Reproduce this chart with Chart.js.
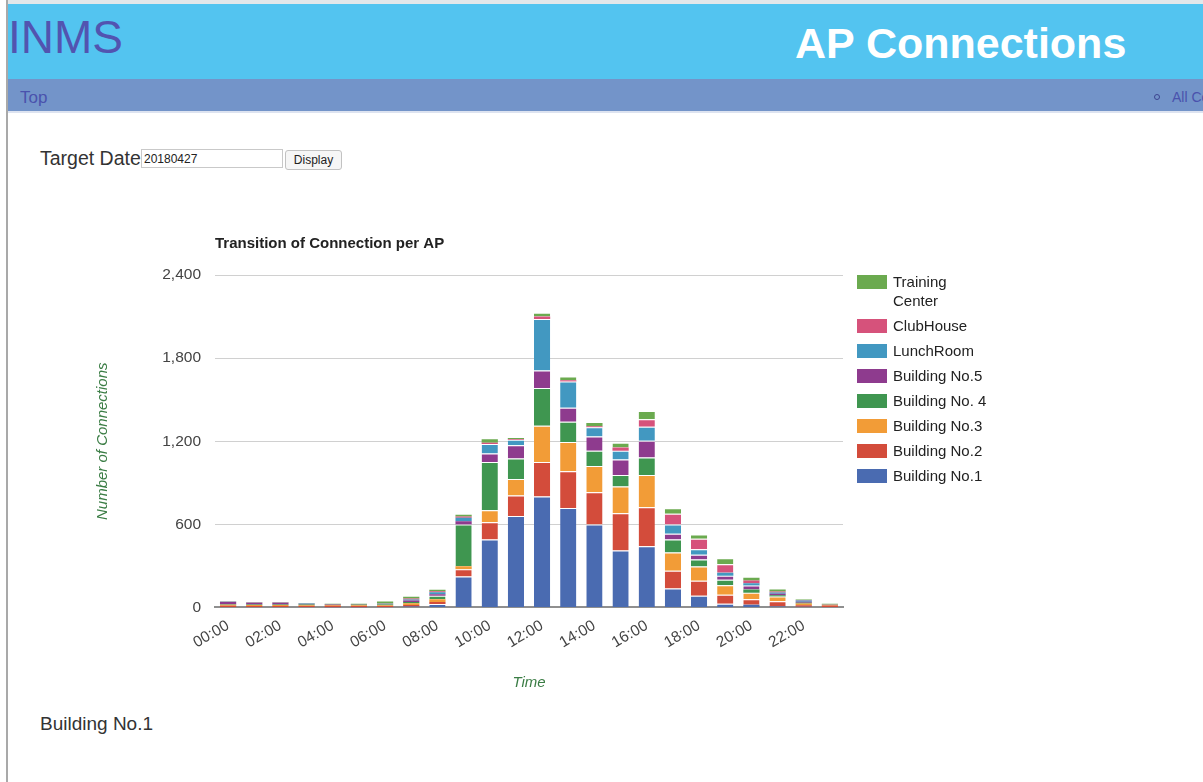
<!DOCTYPE html>
<html>
<head>
<meta charset="utf-8">
<title>AP Connections</title>
<script src="https://cdn.jsdelivr.net/npm/chart.js@4.4.1/dist/chart.umd.min.js"></script>
<style>
  html, body { margin: 0; padding: 0; background: #fff; }
  body { width: 1203px; height: 782px; position: relative; overflow: hidden;
         font-family: "Liberation Sans", Arial, Helvetica, sans-serif; }
  .edge { position: absolute; left: 0; top: 0; width: 6px; height: 782px; background: #fff; border-right: 2px solid #a9a9a9; }
  .topstrip { position: absolute; left: 8px; top: 0; width: 1195px; height: 4px; background: #e3e7ea; }
  .header { position: absolute; left: 8px; top: 4px; width: 1195px; height: 75px; background: #53c4f0; overflow: hidden; }
  .brand { position: absolute; left: 0px; top: 10px; font-size: 46px; color: #5254b0; line-height: 1; }
  .pagetitle { position: absolute; left: 787px; top: 18px; font-size: 43px; font-weight: bold; color: #fff; line-height: 1; }
  .nav { position: absolute; left: 8px; top: 79px; width: 1195px; height: 32px; background: #7394c9; border-bottom: 2px solid #dde3f0; }
  .nav .top { position: absolute; left: 12px; top: 9px; font-size: 17px; color: #4a52ad; }
  .nav .bullet { position: absolute; left: 1146px; top: 15px; width: 4px; height: 4px; border: 1.5px solid #3d4590; border-radius: 50%; }
  .nav .all { position: absolute; left: 1164px; top: 10px; font-size: 14px; color: #4a52ad; white-space: nowrap; }
  .form { position: absolute; left: 40px; top: 147px; font-size: 19.5px; color: #333; }
  .form input { position: absolute; left: 101px; top: 2px; width: 136px; height: 15px; padding: 1px 2px;
                font-size: 12px; border: 1px solid #c9c9c9; font-family: inherit; color: #222; }
  .form button { position: absolute; left: 245px; top: 3px; width: 57px; height: 20px; font-size: 12px;
                 background: #f6f6f6; border: 1px solid #c2c2c2; border-radius: 3px; padding: 0; font-family: inherit; color: #222; }
  .section { position: absolute; left: 40px; top: 713px; font-size: 19px; color: #333; }
  #chartWrap { position: absolute; left: 60px; top: 225px; width: 1040px; height: 480px; }
  #legend { position: absolute; left: 857px; top: 272px; width: 220px; font-size: 15px; color: #222; }
  .li { position: relative; height: 25px; }
  .li .box { position: absolute; left: 0; top: 3px; width: 30px; height: 14px; }
  .li .txt { position: absolute; left: 36px; top: 0px; line-height: 19px; white-space: nowrap; }
  .li.two { height: 44px; }
</style>
</head>
<body>
<div class="edge"></div>
<div class="topstrip"></div>
<div class="header">
  <div class="brand">INMS</div>
  <div class="pagetitle">AP Connections</div>
</div>
<div class="nav">
  <div class="top">Top</div>
  <div class="bullet"></div>
  <div class="all">All Connections</div>
</div>
<div class="form">Target Date<input type="text" value="20180427"><button>Display</button></div>
<div id="chartWrap"><canvas id="apChart" width="1040" height="480"></canvas></div>
<div id="legend"></div>
<div class="section">Building No.1</div>

<script>
// Hourly slots of the selected day
const hours = ["00:00","01:00","02:00","03:00","04:00","05:00","06:00","07:00","08:00","09:00","10:00","11:00",
               "12:00","13:00","14:00","15:00","16:00","17:00","18:00","19:00","20:00","21:00","22:00","23:00"];

// Connections per access point group, one value per hour
const building1   = [4,3,3,3,2,2,3,8,25,224,491,661,801,719,599,411,442,137,84,27,19,7,5,3];
const building2   = [8,8,8,8,10,8,8,10,15,52,125,147,250,264,233,269,282,128,109,65,41,38,12,12];
const building3   = [8,7,7,6,6,6,5,12,20,22,86,120,260,212,190,193,233,132,103,69,46,34,12,5];
const building4   = [3,3,4,4,2,5,5,10,25,301,349,147,274,145,109,84,125,94,50,39,24,10,5,2];
const building5   = [16,12,10,5,3,2,3,10,10,24,60,96,125,101,103,111,121,41,34,29,29,10,8,2];
const lunchRoom   = [3,2,3,2,1,1,3,8,15,24,70,39,373,190,67,63,101,67,41,21,16,9,8,1];
const clubHouse   = [2,2,2,2,1,1,2,7,8,9,9,7,17,9,7,23,55,77,75,62,20,7,4,1];
const trainingCtr = [2,2,2,2,2,2,14,12,10,13,24,7,28,27,24,36,60,40,31,44,19,15,4,1];

// Y axis tick values
const yTicks = [0, 600, 1200, 1800, 2400];

const seriesNames  = ["Building No.1","Building No.2","Building No.3","Building No. 4","Building No.5","LunchRoom","ClubHouse","Training Center"];
const seriesValues = [building1, building2, building3, building4, building5, lunchRoom, clubHouse, trainingCtr];
const seriesColors = ["#4a6bb1","#d34c3b","#f29c37","#3f9650","#8e3b8e","#4298c1","#d6527b","#6baa4f"];

const datasets = seriesNames.map((name, i) => ({
  label: name,
  data: seriesValues[i],
  backgroundColor: seriesColors[i],
  borderColor: "rgba(255,255,255,0.8)",
  // thin separator on top of each segment, skipped on slivers too thin to show it
  borderWidth: (ctx) => ({ top: (ctx.raw >= 25 ? 1 : 0), right: 0, bottom: 0, left: 0 }),
  borderSkipped: "start",
  barPercentage: 0.62,
  categoryPercentage: 1.0
}));

const FONT = "'Liberation Sans', Arial, Helvetica, sans-serif";

new Chart(document.getElementById("apChart"), {
  type: "bar",
  data: { labels: hours, datasets },
  options: {
    responsive: false,
    animation: false,
    layout: { padding: { left: 34, right: 257, top: 10, bottom: 13 } },
    plugins: {
      legend: { display: false },
      tooltip: { enabled: false },
      title: {
        display: true,
        text: "Transition of Connection per AP",
        align: "start",
        fullSize: false,
        color: "#222",
        font: { family: FONT, size: 15, weight: "bold" },
        padding: { top: 0, bottom: 22 }
      }
    },
    scales: {
      x: {
        stacked: true,
        grid: { display: false, drawTicks: false },
        border: { display: true, color: "#8f8f8f", width: 2 },
        ticks: {
          autoSkip: false,
          maxRotation: 30,
          minRotation: 30,
          padding: 9,
          color: "#444",
          font: { family: FONT, size: 15.5 },
          callback: function (value, index) { return index % 2 === 0 ? this.getLabelForValue(value) : ""; }
        },
        title: {
          display: true,
          text: "Time",
          color: "#3b7d45",
          font: { family: FONT, size: 15, style: "italic" },
          padding: { top: 13, bottom: 0 }
        }
      },
      y: {
        stacked: true,
        min: yTicks[0],
        max: yTicks[yTicks.length - 1],
        afterBuildTicks: (scale) => { scale.ticks = yTicks.map(v => ({ value: v })); },
        afterFit: (scale) => { scale.width = 121; },
        grid: { color: "#d0d0d0", lineWidth: 1, drawTicks: false },
        border: { display: false },
        ticks: {
          padding: 14,
          color: "#444",
          font: { family: FONT, size: 15.5 },
          callback: (v) => Number(v).toLocaleString("en-US")
        },
        title: {
          display: true,
          text: "Number of Connections",
          color: "#3b7d45",
          font: { family: FONT, size: 15, style: "italic" },
          padding: { top: 0, bottom: 0 }
        }
      }
    }
  }
});

// Legend listed top-down in reverse stacking order, as in the chart
const legendEl = document.getElementById("legend");
for (let i = seriesNames.length - 1; i >= 0; i--) {
  const item = document.createElement("div");
  const name = seriesNames[i];
  const parts = name === "Training Center" ? ["Training", "Center"] : [name];
  item.className = "li" + (parts.length > 1 ? " two" : "");
  const box = document.createElement("div");
  box.className = "box";
  box.style.background = seriesColors[i];
  const txt = document.createElement("div");
  txt.className = "txt";
  txt.innerHTML = parts.join("<br>");
  item.appendChild(box);
  item.appendChild(txt);
  legendEl.appendChild(item);
}
</script>
</body>
</html>
